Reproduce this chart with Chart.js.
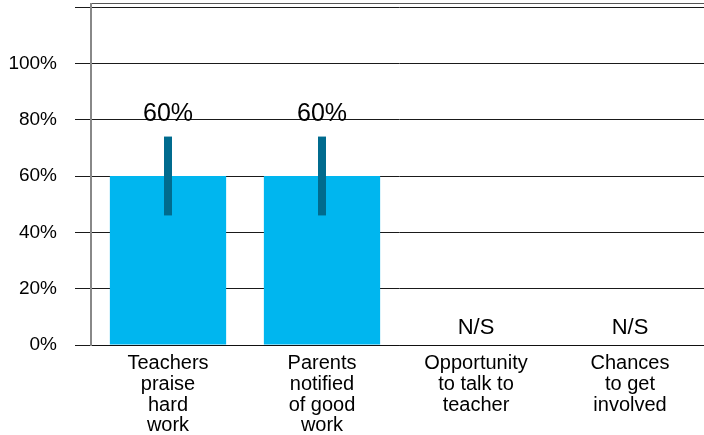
<!DOCTYPE html>
<html>
<head>
<meta charset="utf-8">
<script src="https://cdn.jsdelivr.net/npm/chart.js@4"></script>
<style>
  html, body { margin: 0; padding: 0; background: #fff; overflow: hidden; }
  #wrap { width: 708px; height: 435px; }
</style>
</head>
<body>
<div id="wrap"><canvas id="barChart" width="708" height="435"></canvas></div>
<script>
'use strict';

var categories = [
    ['Teachers', 'praise', 'hard', 'work'],
    ['Parents', 'notified', 'of good', 'work'],
    ['Opportunity', 'to talk to', 'teacher'],
    ['Chances', 'to get', 'involved']
];
var values = [60, 60, null, null];
var errLow = [46, 46, null, null];
var errHigh = [74, 74, null, null];
var valueLabels = ['60%', '60%', 'N/S', 'N/S'];
var yTicks = [0, 20, 40, 60, 80, 100, 120];

var barBlue = '#00B6EF';
var errColor = '#006B8E';
var fontName = '"Liberation Sans", Arial, sans-serif';

// error bars, value labels and the frame line on top
var extrasPlugin = {
    id: 'extras',
    afterDatasetsDraw: function (chart) {
        var ctx = chart.ctx;
        var x = chart.scales.x, y = chart.scales.y;
        var area = chart.chartArea;

        ctx.save();
        ctx.strokeStyle = '#555';
        ctx.lineWidth = 1;
        ctx.beginPath();
        ctx.moveTo(area.left, area.top - 3.5);
        ctx.lineTo(area.right, area.top - 3.5);
        ctx.stroke();
        ctx.strokeStyle = '#888';
        ctx.lineWidth = 2;
        ctx.beginPath();
        ctx.moveTo(area.left, area.top - 4);
        ctx.lineTo(area.left, area.top);
        ctx.stroke();

        for (var i = 0; i < categories.length; i++) {
            var cx = x.getPixelForValue(i);
            ctx.fillStyle = '#000';
            ctx.textAlign = 'center';
            ctx.textBaseline = 'middle';
            if (errLow[i] !== null) {
                var y1 = y.getPixelForValue(errHigh[i]);
                var y2 = y.getPixelForValue(errLow[i]);
                ctx.fillStyle = errColor;
                ctx.fillRect(cx - 4, y1, 8, y2 - y1);
                ctx.font = '25px ' + fontName;
                ctx.fillStyle = '#000';
                ctx.fillText(valueLabels[i], cx, y1 - 22);
            } else {
                ctx.font = '22px ' + fontName;
                ctx.fillText(valueLabels[i], cx, y.getPixelForValue(0) - 17);
            }
        }
        ctx.restore();
    }
};

var barChart = new Chart(document.getElementById('barChart'), {
    type: 'bar',
    data: {
        labels: categories,
        datasets: [
            {
                label: 'Agree',
                data: values,
                backgroundColor: barBlue,
                borderWidth: 0,
                categoryPercentage: 1.0,
                barPercentage: 0.755
            }
        ]
    },
    options: {
        responsive: false,
        animation: false,
        layout: { padding: { top: 7, right: 1, left: 0, bottom: 0 } },
        plugins: {
            legend: { display: false },
            tooltip: { enabled: false }
        },
        scales: {
            x: {
                grid: { display: false, drawTicks: false },
                border: { color: '#111', width: 1 },
                ticks: {
                    color: '#000',
                    padding: 8,
                    maxRotation: 0,
                    autoSkip: false,
                    font: { family: fontName, size: 20, lineHeight: 1.04 }
                },
                afterFit: function (scale) {
                    scale.height = 90;
                    scale.paddingLeft = 0;
                    scale.paddingRight = 0;
                }
            },
            y: {
                min: 0,
                max: 120,
                afterBuildTicks: function (scale) {
                    scale.ticks = yTicks.map(function (v) { return { value: v }; });
                },
                grid: {
                    color: '#1a1a1a',
                    lineWidth: 1,
                    tickLength: 16,
                    drawTicks: true
                },
                border: { color: '#888', width: 2 },
                ticks: {
                    color: '#000',
                    padding: 18,
                    font: { family: fontName, size: 19 },
                    callback: function (v) { return v > 100 ? '' : v + '%'; }
                },
                afterFit: function (scale) {
                    scale.width = 91;
                    scale.paddingTop = 0;
                    scale.paddingBottom = 0;
                }
            }
        }
    },
    plugins: [extrasPlugin]
});
</script>
</body>
</html>
